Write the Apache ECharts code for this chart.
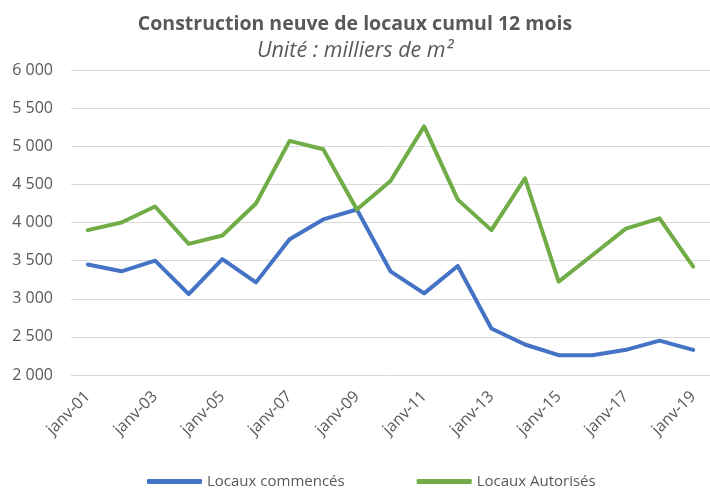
<!DOCTYPE html>
<html>
<head>
<meta charset="utf-8">
<script src="https://cdn.jsdelivr.net/npm/echarts@6/dist/echarts.min.js"></script>
<style>
  html, body { margin: 0; padding: 0; background: #fff; }
  #chart { width: 710px; height: 491px; }
</style>
</head>
<body>
<div id="chart"></div>
<script>
var categories = ['janv-01', 'janv-02', 'janv-03', 'janv-04', 'janv-05', 'janv-06', 'janv-07', 'janv-08', 'janv-09', 'janv-10',
  'janv-11', 'janv-12', 'janv-13', 'janv-14', 'janv-15', 'janv-16', 'janv-17', 'janv-18', 'janv-19']
var commences = [3450, 3360, 3500, 3060, 3520, 3215, 3780, 4040, 4170, 3360, 3070, 3430, 2610, 2400, 2260, 2260, 2330, 2450, 2330]
var autorises = [3900, 4000, 4210, 3720, 3830, 4250, 5070, 4960, 4170, 4545, 5260, 4300, 3900, 4580, 3225, 3570, 3920, 4055, 3420]

var chart = echarts.init(document.getElementById('chart'))
var grey = '#595959'
var font = 'Open Sans'

chart.setOption({
  animation: false,
  title: {
    text: 'Construction neuve de locaux cumul 12 mois',
    subtext: 'Unité : milliers de m²',
    left: 'center',
    top: 9,
    itemGap: 6,
    textStyle: { fontFamily: font, fontSize: 19.5, fontWeight: 'bold', color: grey },
    subtextStyle: { fontFamily: font, fontSize: 21.5, fontStyle: 'italic', color: grey }
  },
  legend: {
    bottom: 2,
    left: 147,
    padding: 0,
    itemWidth: 55,
    itemHeight: 5,
    itemGap: 72,
    icon: 'roundRect',
    textStyle: { fontFamily: font, fontSize: 15, color: grey },
    data: ['Locaux commencés', 'Locaux Autorisés']
  },
  grid: { left: 71, top: 70, width: 647, height: 305 },
  xAxis: {
    type: 'category',
    data: categories,
    boundaryGap: true,
    axisLine: { show: true, lineStyle: { color: '#d9d9d9' } },
    axisTick: { show: false },
    axisLabel: { interval: 1, rotate: 45, fontFamily: font, fontSize: 16, color: grey, margin: 19 }
  },
  yAxis: {
    type: 'value',
    min: 2000,
    max: 6000,
    interval: 500,
    axisLine: { show: false },
    axisTick: { show: false },
    splitLine: { lineStyle: { color: '#d9d9d9', width: 1 } },
    axisLabel: {
      fontFamily: font, fontSize: 16, color: grey, margin: 18,
      formatter: function (v) { return String(v).replace(/\B(?=(\d{3})+(?!\d))/g, ' ') }
    }
  },
  series: [
    {
      name: 'Locaux commencés',
      type: 'line',
      data: commences,
      showSymbol: false,
      lineStyle: { width: 4, color: '#4472C4', cap: 'round', join: 'round' },
      itemStyle: { color: '#4472C4' }
    },
    {
      name: 'Locaux Autorisés',
      type: 'line',
      data: autorises,
      showSymbol: false,
      lineStyle: { width: 4, color: '#70AD47', cap: 'round', join: 'round' },
      itemStyle: { color: '#70AD47' }
    }
  ]
})
</script>
</body>
</html>
